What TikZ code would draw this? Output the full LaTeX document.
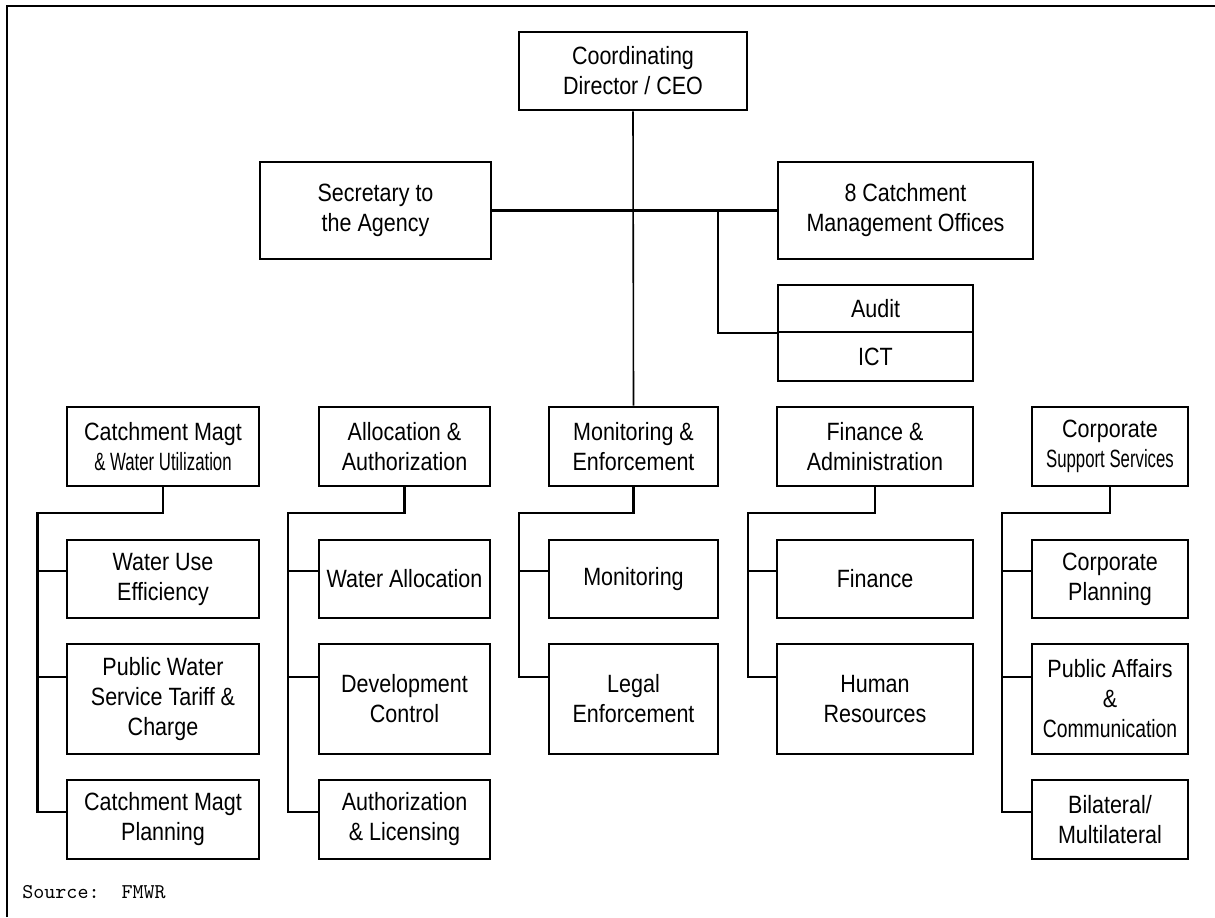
\documentclass[tikz,border=0pt]{standalone}
\usepackage{fontspec}
\setmainfont{Liberation Sans}[FakeStretch=0.86]
\newcommand\narrowtext[2][0.78]{\scalebox{#1}[1]{#2}}

\begin{document}
\begin{tikzpicture}[x=0.5pt,y=-0.5pt,
  box/.style={draw,line width=1.3pt,align=center,inner sep=0pt,
    font=\fontsize{12.5}{15}\selectfont},
  link/.style={line width=1.1pt}]
\useasboundingbox (0,0) rectangle (1215,917);
\draw[line width=1.1pt] (7,917) -- (7,6) -- (1215,6);

\node[box,minimum width=114pt,minimum height=39pt] (ceo) at (633,71)
{Coordinating\\Director / CEO};
\node[box,minimum width=115.5pt,minimum height=48.5pt] (sec) at (375.5,210.5)
{Secretary to\\the Agency};
\node[box,minimum width=127.5pt,minimum height=48.5pt] (cmo) at (905.5,210.5)
{8 Catchment\\Management Offices};
\node[box,minimum width=97.5pt,minimum height=23.5pt] (audit) at (875.5,308.5) {Audit};
\node[box,minimum width=97.5pt,minimum height=24.5pt] (ict) at (875.5,356.5) {ICT};

\node[box,minimum width=96pt,minimum height=39.5pt] (cmwu) at (163,446.5)
{Catchment Magt\\\narrowtext{\& Water Utilization}};
\node[box,minimum width=85.5pt,minimum height=39.5pt] (alloc) at (404.5,446.5)
{Allocation \&\\Authorization};
\node[box,minimum width=84.5pt,minimum height=39.5pt] (mone) at (633.5,446.5)
{Monitoring \&\\Enforcement};
\node[box,minimum width=98pt,minimum height=39.5pt] (finad) at (875,446.5)
{Finance \&\\Administration};
\node[box,minimum width=78pt,minimum height=39.5pt] (corp) at (1110,446.5)
{Corporate\\\narrowtext{Support Services}};

\node[box,minimum width=96pt,minimum height=39pt] (wue) at (163,579)
{Water Use\\Efficiency};
\node[box,minimum width=96pt,minimum height=55pt] (pws) at (163,699)
{Public Water\\Service Tariff \&\\Charge};
\node[box,minimum width=96pt,minimum height=39.5pt] (cmp) at (163,819.5)
{Catchment Magt\\Planning};

\node[box,minimum width=85.5pt,minimum height=39pt] (wal) at (404.5,579)
{Water Allocation};
\node[box,minimum width=85.5pt,minimum height=55pt] (dev) at (404.5,699)
{Development\\Control};
\node[box,minimum width=85.5pt,minimum height=39.5pt] (aut) at (404.5,819.5)
{Authorization\\\& Licensing};

\node[box,minimum width=84.5pt,minimum height=39pt] (mon) at (633.5,579)
{Monitoring};
\node[box,minimum width=84.5pt,minimum height=55pt] (leg) at (633.5,699)
{Legal\\Enforcement};

\node[box,minimum width=98pt,minimum height=39pt] (fin) at (875,579)
{Finance};
\node[box,minimum width=98pt,minimum height=55pt] (hr) at (875,699)
{Human\\Resources};

\node[box,minimum width=78pt,minimum height=39pt] (cpl) at (1110,579)
{Corporate\\Planning};
\node[box,minimum width=78pt,minimum height=55pt] (pac) at (1110,699)
{Public Affairs\\\&\\\narrowtext[0.9]{Communication}};
\node[box,minimum width=78pt,minimum height=39.5pt] (bil) at (1110,819.5)
{Bilateral/\\Multilateral};

\node[anchor=base west,inner sep=0pt,font=\ttfamily\fontsize{10.5}{12}\selectfont]
(src) at (22,898) {Source:\ \ FMWR};

\draw[line width=0.8pt] (ceo.south) -- (mone.north);
\draw[line width=1.6pt] (sec.east) -- (cmo.west);
\coordinate (ab) at (718,211);
\draw[link] (ab) |- (audit.south west);

\coordinate (j1) at (37.5,513);
\coordinate (j2) at (288,513);
\coordinate (j3) at (519,513);
\coordinate (j4) at (748,513);
\coordinate (j5) at (1002,513);

\draw[link] (cmwu.south) |- (j1) |- ([yshift=4pt]wue.west);
\draw[link] (j1) |- ([yshift=11pt]pws.west);
\draw[link] (j1) |- ([yshift=3.75pt]cmp.west);

\draw[link] (alloc.south) |- (j2) |- ([yshift=4pt]wal.west);
\draw[link] (j2) |- ([yshift=11pt]dev.west);
\draw[link] (j2) |- ([yshift=3.75pt]aut.west);

\draw[link] (mone.south) |- (j3) |- ([yshift=4pt]mon.west);
\draw[link] (j3) |- ([yshift=11pt]leg.west);

\draw[link] (finad.south) |- (j4) |- ([yshift=4pt]fin.west);
\draw[link] (j4) |- ([yshift=11pt]hr.west);

\draw[link] (corp.south) |- (j5) |- ([yshift=4pt]cpl.west);
\draw[link] (j5) |- ([yshift=11pt]pac.west);
\draw[link] (j5) |- ([yshift=3.75pt]bil.west);
\end{tikzpicture}
\end{document}
